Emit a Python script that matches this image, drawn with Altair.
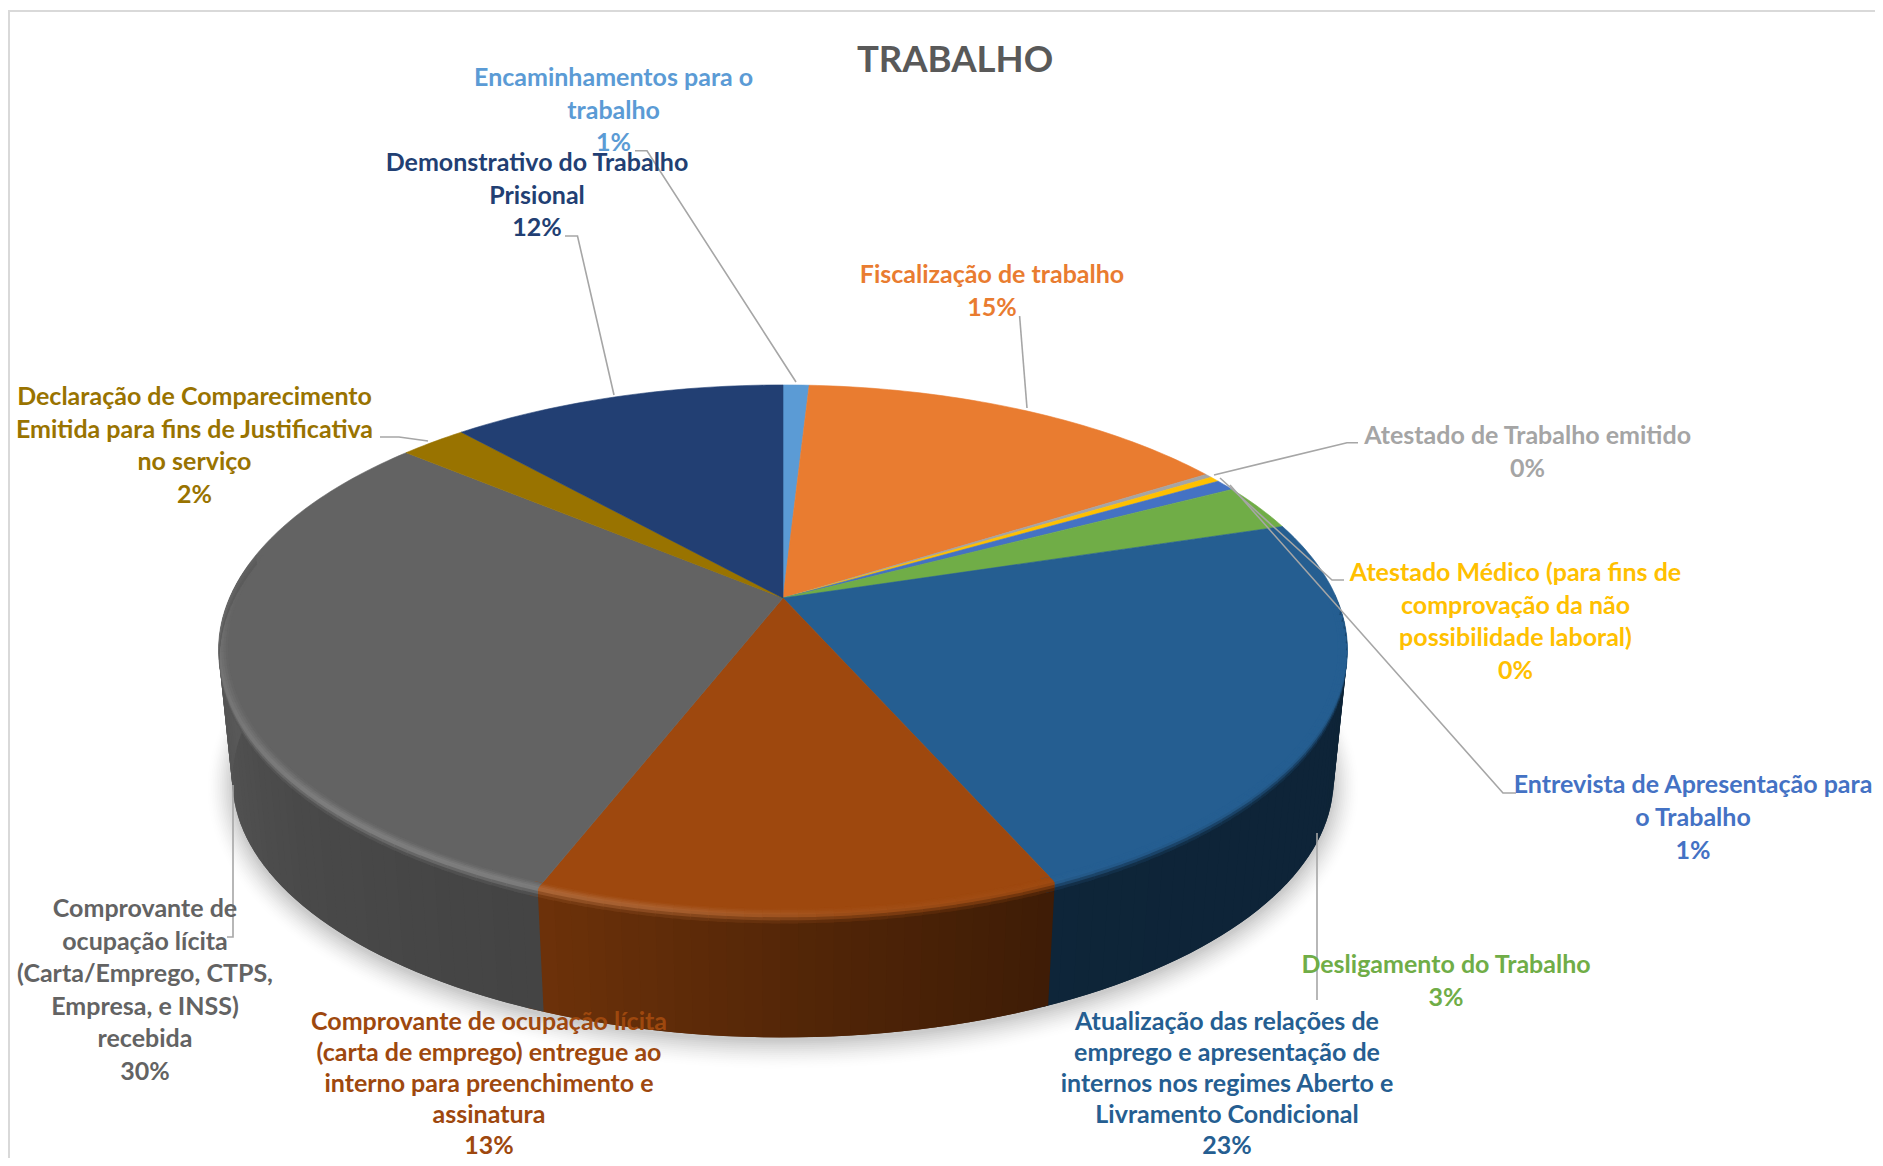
import math
import altair as alt

# ---- chart values (percent of the whole, clockwise from 12 o'clock) ----
CATEGORIES = ["Encaminhamentos", "Fiscalização", "Atestado Trabalho", "Atestado Médico",
              "Entrevista", "Desligamento", "Atualização", "Comprovante entregue",
              "Comprovante recebida", "Declaração", "Demonstrativo"]
VALUES = [0.9, 15.1, 0.25, 0.35, 0.7, 2.9, 23.2, 12.5, 30.2, 2.3, 11.6]
COLORS = ["#5B9BD5", "#E97C30", "#A5A5A5", "#FFC000", "#4472C4", "#70AD47",
          "#255E91", "#9E480E", "#636363", "#997300", "#223F73"]

LABEL_LINES = [
    ["Encaminhamentos para o", "trabalho", "1%"],
    ["Fiscalização de trabalho", "15%"],
    ["Atestado de Trabalho emitido", "0%"],
    ["Atestado Médico (para fins de", "comprovação da não", "possibilidade laboral)", "0%"],
    ["Entrevista de Apresentação para", "o Trabalho", "1%"],
    ["Desligamento do Trabalho", "3%"],
    ["Atualização das relações de", "emprego e apresentação de", "internos nos regimes Aberto e",
     "Livramento Condicional", "23%"],
    ["Comprovante de ocupação lícita", "(carta de emprego) entregue ao",
     "interno para preenchimento e", "assinatura", "13%"],
    ["Comprovante de", "ocupação lícita", "(Carta/Emprego, CTPS,", "Empresa, e INSS)", "recebida", "30%"],
    ["Declaração de Comparecimento", "Emitida para fins de Justificativa", "no serviço", "2%"],
    ["Demonstrativo do Trabalho", "Prisional", "12%"],
]
LABEL_CX = [613.6, 992, 1527.6, 1515.5, 1693, 1446, 1227, 489, 145, 194.5, 537]
LABEL_Y0 = [78.2, 275, 436, 573, 785, 965, 1022, 1022, 909, 397, 163]
LABEL_STEP = [32.5, 32.5, 32.5, 32.5, 32.8, 32.5, 30.9, 30.9, 32.6, 32.6, 32.5]
TITLE = "TRABALHO"

LEADERS = [
    [(635, 150.7), (647, 150.7), (796, 382)],
    [(1019.6, 316), (1027, 408)],
    [(1358, 442.7), (1347, 442.7), (1214, 475)],
    [(1344, 580), (1332, 580), (1220, 478)],
    [(1516, 793), (1503, 793), (1230, 485)],
    [(1317, 833), (1317, 1000)],
    [(233, 785), (233, 937), (227, 937)],
    [(380, 437), (399, 437), (428, 441)],
    [(565, 236), (577.5, 236), (614, 395)],
]
FRAME = [(1883, 11), (9, 11), (9, 1166)]

# ---- page geometry ----
W, H = 1867, 1150
OFF = 8
CX, TOP_Y0, TOP_A, TOP_B, K = 783.0, 598.0, 553.5, 254.8, 0.196
BOT_Y0, BOT_A, BOT_B = 729.0, 540.0, 248.0


def proj(deg, r=1.0, y0=TOP_Y0, a=TOP_A, b=TOP_B):
    t = math.radians(deg)
    x, y = r * math.sin(t), r * math.cos(t)
    w = 1 + K * y
    return [CX + a * x / w, y0 - b * y / w]


def rgb(h):
    return [int(h[i:i + 2], 16) for i in (1, 3, 5)]


def tohex(c):
    return "#%02x%02x%02x" % tuple(max(0, min(255, round(v))) for v in c)


def mix(c1, c2, t):
    return [a + (b - a) * t for a, b in zip(c1, c2)]


def interp(table, x):
    if x <= table[0][0]:
        return table[0][1]
    for (x0, y0), (x1, y1) in zip(table, table[1:]):
        if x <= x1:
            return y0 + (y1 - y0) * (x - x0) / (x1 - x0)
    return table[-1][1]


WALL_F = [(95, .38), (156, .39), (175, .5), (200, .68), (230, .74), (258, .85), (270, .9)]
HILITE = [(150, 0), (175, .05), (190, .15), (205, .2), (225, .2), (250, .14), (262, .1), (275, 0)]

bounds = [0.0]
for v in VALUES:
    bounds.append(bounds[-1] + v)
total = bounds[-1]
ANG = [b / total * 360 for b in bounds]


def feat(pts, fill, closed=True):
    if closed:
        geom = {"type": "Polygon", "coordinates": [pts + [pts[0]]]}
    else:
        geom = {"type": "LineString", "coordinates": pts}
    return {"type": "Feature", "geometry": geom, "properties": {"fill": fill}}


under = []   # shadow and wall: painted in order, each overlapping the one before
faces = []   # the top sectors
rim = []     # bevel

# soft shadow under the pie (outer to inner)
N_SH = 16
for i in range(N_SH):
    t = i / (N_SH - 1)
    grow = 26 * (1 - t)
    grey = 255 - 52 * t ** 1.6
    ring = [proj(d, 1.0, BOT_Y0 + 4, BOT_A + grow, BOT_B + grow * .9) for d in range(0, 360, 2)]
    under.append(feat(ring, tohex([grey] * 3)))

# side wall, split on the slice bounds
STEP = 1.5
for i in range(len(VALUES)):
    a0, a1 = ANG[i], ANG[i + 1]
    d = a0
    while d < a1 - 1e-9:
        e = min(d + STEP, a1)
        if e > 90 and d < 275:
            mid = (d + e) / 2
            c = tohex([v * interp(WALL_F, mid) for v in rgb(COLORS[i])])
            f = e + STEP
            poly = [proj(d), proj(f), proj(f, 1, BOT_Y0, BOT_A, BOT_B), proj(d, 1, BOT_Y0, BOT_A, BOT_B)]
            under.append(feat(poly, c))
        d = e

# top face sectors
for i in range(len(VALUES)):
    a0, a1 = ANG[i], ANG[i + 1]
    n = max(2, int((a1 - a0) / 1.0) + 1)
    pts = [[CX, TOP_Y0]] + [proj(a0 + (a1 - a0) * j / n) for j in range(n + 1)]
    faces.append(feat(pts, COLORS[i]))


def ring_pt(deg, s):
    if s <= .6:
        return proj(deg, 1 - .016 * (1 - s / .6))
    u = (s - .6) / .4 * .07
    p, q = proj(deg), proj(deg, 1, BOT_Y0, BOT_A, BOT_B)
    return [p[0] + (q[0] - p[0]) * u, p[1] + (q[1] - p[1]) * u]


# bevel on the front rim: bands from the face over the edge onto the wall
BANDS = 7
for i in range(len(VALUES)):
    a0, a1 = ANG[i], ANG[i + 1]
    base = rgb(COLORS[i])
    d = a0
    while d < a1 - 1e-9:
        e = min(d + STEP, a1)
        if e > 92 and d < 278:
            mid = (d + e) / 2
            wall = [v * interp(WALL_F, mid) for v in base]
            edge = mix(base, [255, 255, 255], interp(HILITE, mid))
            f = e + .8
            for b in range(BANDS):
                s0, s1 = b / BANDS, min(1.0, (b + 1.6) / BANDS)
                sm = (b + .5) / BANDS
                col = mix(base, edge, sm / .6) if sm <= .6 else mix(edge, wall, (sm - .6) / .4)
                poly = [ring_pt(d, s0), ring_pt(f, s0), ring_pt(f, s1), ring_pt(d, s1)]
                rim.append(feat(poly, tohex(col)))
        d = e

line_feats = [feat([list(p) for p in L], "#A6A6A6", closed=False) for L in LEADERS]
frame_feats = [feat([list(p) for p in FRAME], "#D9D9D9", closed=False)]

rows = []
for lines, cx, y0, st, col in zip(LABEL_LINES, LABEL_CX, LABEL_Y0, LABEL_STEP, COLORS):
    for n, line in enumerate(lines):
        rows.append({"t": line, "x": cx, "y": y0 + n * st, "c": col})

projection = dict(type="identity", scale=1, translate=[-OFF, -OFF])
x_scale = alt.Scale(domain=[OFF, OFF + W], range=[0, W])
y_scale = alt.Scale(domain=[OFF, OFF + H], range=[0, H])


def shapes(data, sw):
    m = alt.Chart(alt.Data(values=data)).mark_geoshape(strokeWidth=sw)
    if sw:
        return m.encode(fill=alt.Fill("properties.fill:N", scale=None),
                        stroke=alt.Stroke("properties.fill:N", scale=None)).project(**projection)
    return m.encode(fill=alt.Fill("properties.fill:N", scale=None)).project(**projection)


frame = alt.Chart(alt.Data(values=frame_feats)).mark_geoshape(
    fillOpacity=0, filled=False, stroke="#D9D9D9", strokeWidth=2).project(**projection)
leaders = alt.Chart(alt.Data(values=line_feats)).mark_geoshape(
    fillOpacity=0, filled=False, stroke="#A6A6A6", strokeWidth=1.6).project(**projection)

labels = alt.Chart(alt.Data(values=rows)).mark_text(
    font="Lato", fontWeight="bold", fontSize=25, baseline="middle", align="center").encode(
    x=alt.X("x:Q", scale=x_scale, axis=None),
    y=alt.Y("y:Q", scale=y_scale, axis=None),
    text="t:N",
    color=alt.Color("c:N", scale=None),
)
title = alt.Chart(alt.Data(values=[{"t": TITLE, "x": 955, "y": 61}])).mark_text(
    font="Lato", fontWeight="bold", fontSize=36.5, baseline="middle", align="center", color="#595959").encode(
    x=alt.X("x:Q", scale=x_scale, axis=None),
    y=alt.Y("y:Q", scale=y_scale, axis=None),
    text="t:N",
)

chart = alt.layer(frame, shapes(under, 0), shapes(faces, 0.6), shapes(rim, 0), leaders, labels, title).properties(
    width=W, height=H, padding=0, autosize=alt.AutoSizeParams(type="none"),
    background="white",
).configure_view(stroke=None)

chart.save("out.html", embed_options={"renderer": "svg", "actions": False})
